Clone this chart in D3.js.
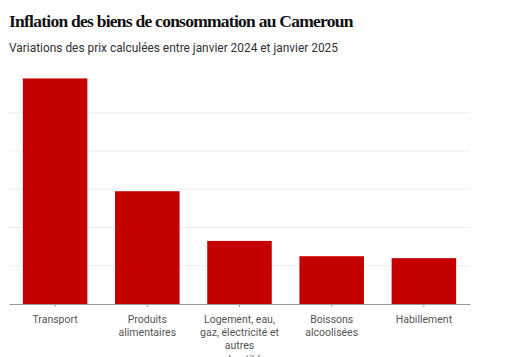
<!DOCTYPE html>
<html><head><meta charset="utf-8">
<script src="https://cdn.jsdelivr.net/npm/d3@7"></script>
<style>
body{margin:0;background:#fff;}
svg{display:block;}
</style></head>
<body>
<svg id="c" width="509" height="357"></svg>
<script>
const categories = ["Transport","Produits alimentaires","Logement, eau, gaz, électricité et autres combustibles","Boissons alcoolisées","Habillement"];
const values = [11.8, 5.9, 3.3, 2.5, 2.4];
const gridTicks = [0, 2, 4, 6, 8, 10];

(function(){
const svg = d3.select("#c");
const mLeft = 9, mRight = 470, mBottom = 304, mTop = 74.6;

svg.append("text").attr("x", 9).attr("y", 27)
  .attr("font-family", "Liberation Serif, serif").attr("font-weight", "bold")
  .attr("font-size", 17.5).attr("letter-spacing", "-0.75").attr("fill", "#111")
  .text("Inflation des biens de consommation au Cameroun");
svg.append("text").attr("x", 9).attr("y", 52)
  .attr("font-family", "Roboto, sans-serif").attr("font-size", 11.9).attr("fill", "#333")
  .text("Variations des prix calculées entre janvier 2024 et janvier 2025");

const x = d3.scaleBand().domain(categories).range([mLeft, mRight]).paddingInner(0.3).paddingOuter(0.15);
const y = d3.scaleLinear().domain([0, 12]).range([mBottom, mTop]);

svg.append("g").selectAll("line").data(gridTicks.filter(d => d > 0)).join("line")
  .attr("x1", mLeft).attr("x2", mRight)
  .attr("y1", d => y(d)).attr("y2", d => y(d))
  .attr("stroke", "#eeeeee").attr("stroke-width", 1);

svg.append("g").selectAll("rect").data(values).join("rect")
  .attr("x", (d, i) => x(categories[i]))
  .attr("width", x.bandwidth())
  .attr("y", d => y(d))
  .attr("height", d => y(0) - y(d))
  .attr("fill", "#c40000");

const ax = svg.append("g").attr("transform", `translate(0,${mBottom})`)
  .call(d3.axisBottom(x).tickSize(3).tickPadding(9).tickSizeOuter(0));
ax.select(".domain").attr("stroke", "#999").attr("stroke-width", 1.2);
ax.selectAll(".tick line").attr("stroke", "#999");
ax.selectAll(".tick text").attr("font-family", "Roboto, sans-serif").attr("font-size", 10.5).attr("fill", "#555");

function wrap(text, width) {
  text.each(function() {
    const t = d3.select(this);
    const words = t.text().split(/\s+/);
    const yy = t.attr("y"), dy = parseFloat(t.attr("dy")) || 0;
    t.text(null);
    let line = [], lineNo = 0;
    let tspan = t.append("tspan").attr("x", 0).attr("y", yy).attr("dy", dy + "em");
    for (const w of words) {
      line.push(w);
      tspan.text(line.join(" "));
      if (tspan.node().getComputedTextLength() > width && line.length > 1) {
        line.pop();
        tspan.text(line.join(" "));
        line = [w];
        lineNo++;
        tspan = t.append("tspan").attr("x", 0).attr("y", yy).attr("dy", (lineNo * 1.24 + dy) + "em").text(w);
      }
    }
  });
}
ax.selectAll(".tick text").call(wrap, 80);
})();
</script>
</body></html>
